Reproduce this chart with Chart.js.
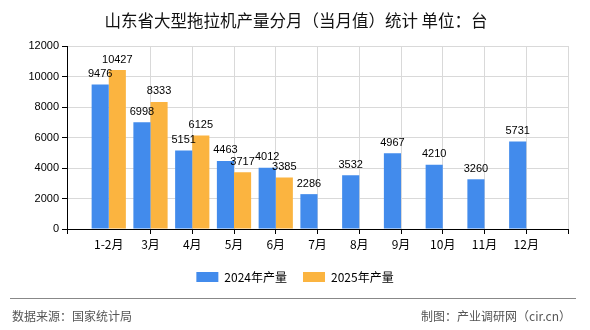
<!DOCTYPE html>
<html>
<head>
<meta charset="utf-8">
<script src="https://cdn.jsdelivr.net/npm/chart.js@4.4.0/dist/chart.umd.min.js"></script>
<style>
  html, body { margin: 0; padding: 0; background: #fff; }
  #c { display: block; }
</style>
</head>
<body>
<canvas id="c" width="590" height="330"></canvas>
<script>
// categories (empty slots at both ends, like the original axis)
const months = ['', '1-2月', '3月', '4月', '5月', '6月', '7月', '8月', '9月', '10月', '11月', '12月', ''];
const prod2024 = [null, 9476, 6998, 5151, 4463, 4012, 2286, 3532, 4967, 4210, 3260, 5731, null];
const prod2025 = [null, 10427, 8333, 6125, 3717, 3385, null, null, null, null, null, null, null];
const seriesNames = ['2024年产量', '2025年产量'];
const yMax = 12000;
const yStep = 2000;

const titleText = '山东省大型拖拉机产量分月（当月值）统计 单位：台';
const sourceText = '数据来源：国家统计局';
const creditText = '制图：产业调研网（cir.cn）';

const FONT = '"Noto Sans CJK SC", "Noto Sans", sans-serif';

// value labels above bars
const barLabels = {
    id: 'barLabels',
    afterDatasetsDraw(chart) {
        const ctx = chart.ctx;
        ctx.save();
        ctx.font = '11px "Liberation Sans", sans-serif';
        ctx.fillStyle = '#000';
        ctx.textAlign = 'center';
        ctx.textBaseline = 'bottom';
        chart.data.datasets.forEach((ds, i) => {
            chart.getDatasetMeta(i).data.forEach((bar, j) => {
                if (ds.data[j] == null) return;
                ctx.fillText(ds.data[j], bar.x, bar.y - 5);
            });
        });
        ctx.restore();
    }
};

// title + footer
const frame = {
    id: 'frame',
    afterDraw(chart) {
        const ctx = chart.ctx;
        ctx.save();
        ctx.fillStyle = '#111';
        ctx.font = '16.5px ' + FONT;
        ctx.textAlign = 'center';
        ctx.textBaseline = 'middle';
        ctx.fillText(titleText, 296, 21);

        ctx.strokeStyle = '#888';
        ctx.lineWidth = 1;
        ctx.beginPath();
        ctx.moveTo(10, 298.5);
        ctx.lineTo(576, 298.5);
        ctx.stroke();

        ctx.fillStyle = '#555';
        ctx.font = '12px ' + FONT;
        ctx.textAlign = 'left';
        ctx.fillText(sourceText, 12, 316);
        ctx.textAlign = 'right';
        ctx.fillText(creditText, 571, 316);
        ctx.restore();
    }
};

new Chart(document.getElementById('c').getContext('2d'), {
    type: 'bar',
    data: {
        labels: months,
        datasets: [{
            label: seriesNames[0],
            data: prod2024,
            backgroundColor: '#428bec',
            categoryPercentage: 0.82,
            barPercentage: 1
        }, {
            label: seriesNames[1],
            data: prod2025,
            backgroundColor: '#fbb440',
            categoryPercentage: 0.82,
            barPercentage: 1
        }]
    },
    options: {
        responsive: false,
        animation: false,
        layout: { padding: { top: 46, left: 22, right: 22, bottom: 37 } },
        plugins: {
            legend: {
                position: 'bottom',
                labels: { boxWidth: 22, boxHeight: 10, padding: 16, color: '#000', font: { size: 12, family: FONT } }
            },
            tooltip: { enabled: false }
        },
        scales: {
            x: {
                offset: false,
                grid: {
                    offset: false,
                    tickLength: 5,
                    color: c => c.index <= 1 ? 'rgba(0,0,0,0)' : '#d9d9d9',
                    tickColor: c => c.index === 1 ? 'rgba(0,0,0,0)' : '#000'
                },
                border: { color: '#000', width: 1 },
                ticks: { autoSkip: false, maxRotation: 0, color: '#000', padding: 3, font: { size: 12, family: FONT } },
                afterFit(s) { s.height = 26; }
            },
            y: {
                min: 0,
                max: yMax,
                grid: { color: '#d9d9d9', tickColor: '#000', tickLength: 5 },
                border: { color: '#000', width: 1 },
                ticks: {
                    stepSize: yStep,
                    color: '#000',
                    padding: 3,
                    font: { size: 11, family: '"Liberation Sans", sans-serif' },
                    callback: v => String(v)
                },
                afterFit(s) { s.width = 45; }
            }
        }
    },
    plugins: [barLabels, frame]
});
</script>
</body>
</html>
